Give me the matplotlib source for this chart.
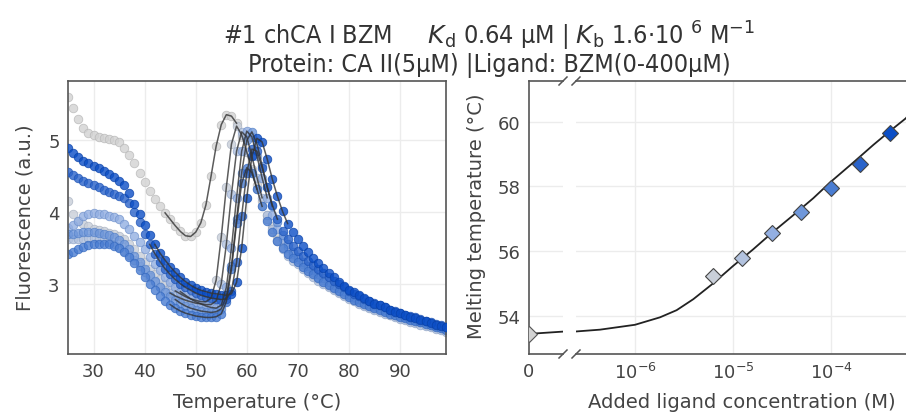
import matplotlib
matplotlib.use("Agg")
import matplotlib.pyplot as plt
from matplotlib.lines import Line2D
from matplotlib.ticker import FixedLocator, NullLocator

plt.rcParams['font.family'] = ['DejaVu Sans']
plt.rcParams['mathtext.fontset'] = 'dejavusans'

temps = list(range(25, 100))

fluo_0 = [5.60, 5.45, 5.30, 5.18, 5.10, 5.07, 5.05, 5.04, 5.02, 5.00,
          4.98, 4.90, 4.80, 4.68, 4.55, 4.42, 4.30, 4.18, 4.08, 3.99,
          3.90, 3.81, 3.73, 3.67, 3.66, 3.72, 3.85, 4.10, 4.50, 4.92,
          5.22, 5.36, 5.34, 5.24, 5.05, 4.84, 4.60, 4.38, 4.16, 3.96,
          3.80, 3.67, 3.56, 3.47, 3.39, 3.32, 3.25, 3.19, 3.13, 3.08,
          3.03, 2.98, 2.94, 2.90, 2.86, 2.82, 2.78, 2.75, 2.72, 2.69,
          2.66, 2.63, 2.61, 2.58, 2.56, 2.54, 2.52, 2.50, 2.48, 2.46,
          2.44, 2.42, 2.40, 2.38, 2.36]
fluo_6 = [4.16, 3.98, 3.88, 3.83, 3.80, 3.77, 3.75, 3.73, 3.71, 3.69,
          3.66, 3.62, 3.56, 3.48, 3.39, 3.30, 3.21, 3.13, 3.06, 3.00,
          2.95, 2.90, 2.86, 2.82, 2.79, 2.77, 2.75, 2.75, 2.80, 3.05,
          3.65, 4.35, 4.95, 5.20, 5.08, 4.84, 4.58, 4.32, 4.09, 3.90,
          3.74, 3.61, 3.51, 3.43, 3.36, 3.30, 3.24, 3.18, 3.12, 3.07,
          3.02, 2.97, 2.93, 2.89, 2.85, 2.81, 2.77, 2.74, 2.71, 2.68,
          2.65, 2.62, 2.60, 2.57, 2.55, 2.53, 2.51, 2.49, 2.47, 2.45,
          2.43, 2.41, 2.39, 2.37, 2.35]
fluo_12 = [3.63, 3.62, 3.62, 3.63, 3.64, 3.64, 3.63, 3.61, 3.58, 3.55,
           3.51, 3.46, 3.40, 3.33, 3.25, 3.17, 3.09, 3.02, 2.96, 2.91,
           2.87, 2.83, 2.80, 2.77, 2.75, 2.73, 2.72, 2.71, 2.71, 2.76,
           3.00, 3.55, 4.25, 4.85, 5.12, 5.05, 4.78, 4.48, 4.20, 3.96,
           3.76, 3.60, 3.48, 3.39, 3.32, 3.27, 3.21, 3.15, 3.09, 3.04,
           2.99, 2.95, 2.91, 2.87, 2.83, 2.79, 2.76, 2.72, 2.69, 2.66,
           2.63, 2.61, 2.58, 2.56, 2.54, 2.51, 2.49, 2.47, 2.45, 2.43,
           2.41, 2.39, 2.37, 2.35, 2.33]
fluo_25 = [3.78, 3.82, 3.88, 3.94, 3.98, 3.99, 3.98, 3.97, 3.95, 3.93,
           3.90, 3.84, 3.76, 3.67, 3.58, 3.48, 3.38, 3.28, 3.19, 3.10,
           3.02, 2.95, 2.89, 2.84, 2.79, 2.75, 2.72, 2.69, 2.67, 2.66,
           2.70, 2.95, 3.50, 4.20, 4.85, 5.13, 5.05, 4.78, 4.48, 4.20,
           3.96, 3.77, 3.62, 3.51, 3.42, 3.35, 3.28, 3.22, 3.16, 3.10,
           3.05, 3.00, 2.96, 2.92, 2.88, 2.84, 2.80, 2.77, 2.73, 2.70,
           2.67, 2.65, 2.62, 2.60, 2.57, 2.55, 2.53, 2.51, 2.49, 2.47,
           2.45, 2.43, 2.41, 2.39, 2.37]
fluo_50 = [3.70, 3.70, 3.71, 3.72, 3.72, 3.72, 3.71, 3.70, 3.68, 3.65,
           3.61, 3.55, 3.48, 3.39, 3.30, 3.21, 3.12, 3.04, 2.96, 2.89,
           2.83, 2.78, 2.73, 2.69, 2.66, 2.64, 2.62, 2.61, 2.60, 2.61,
           2.65, 2.82, 3.25, 3.90, 4.55, 5.00, 5.12, 4.95, 4.65, 4.35,
           4.08, 3.86, 3.68, 3.55, 3.45, 3.38, 3.31, 3.25, 3.19, 3.13,
           3.08, 3.03, 2.98, 2.94, 2.90, 2.86, 2.82, 2.79, 2.75, 2.72,
           2.69, 2.66, 2.64, 2.61, 2.59, 2.56, 2.54, 2.52, 2.50, 2.48,
           2.46, 2.44, 2.42, 2.40, 2.38]
fluo_100 = [3.42, 3.45, 3.49, 3.52, 3.54, 3.55, 3.56, 3.56, 3.55, 3.53,
            3.50, 3.45, 3.38, 3.29, 3.19, 3.09, 2.99, 2.91, 2.83, 2.76,
            2.71, 2.66, 2.62, 2.59, 2.57, 2.55, 2.54, 2.53, 2.53, 2.54,
            2.58, 2.75, 3.20, 3.85, 4.40, 4.62, 4.55, 4.32, 4.08, 3.88,
            3.72, 3.60, 3.50, 3.42, 3.36, 3.30, 3.24, 3.18, 3.13, 3.08,
            3.03, 2.98, 2.94, 2.90, 2.86, 2.82, 2.78, 2.75, 2.72, 2.69,
            2.66, 2.63, 2.61, 2.58, 2.56, 2.54, 2.52, 2.50, 2.48, 2.46,
            2.44, 2.42, 2.40, 2.38, 2.36]
fluo_200 = [4.56, 4.52, 4.48, 4.44, 4.41, 4.38, 4.35, 4.31, 4.28, 4.25,
            4.22, 4.20, 4.13, 4.00, 3.86, 3.70, 3.55, 3.42, 3.31, 3.21,
            3.13, 3.06, 3.00, 2.95, 2.91, 2.87, 2.84, 2.82, 2.80, 2.79,
            2.78, 2.79, 2.90, 3.30, 3.95, 4.55, 4.88, 4.85, 4.62, 4.35,
            4.10, 3.90, 3.74, 3.62, 3.53, 3.46, 3.39, 3.32, 3.26, 3.20,
            3.15, 3.09, 3.04, 2.99, 2.95, 2.90, 2.86, 2.83, 2.79, 2.76,
            2.73, 2.70, 2.67, 2.64, 2.62, 2.59, 2.57, 2.55, 2.53, 2.51,
            2.48, 2.46, 2.44, 2.42, 2.40]
fluo_400 = [4.90, 4.82, 4.77, 4.72, 4.68, 4.65, 4.62, 4.58, 4.53, 4.49,
            4.44, 4.38, 4.26, 4.12, 3.97, 3.82, 3.68, 3.55, 3.43, 3.33,
            3.24, 3.16, 3.09, 3.03, 2.98, 2.94, 2.91, 2.89, 2.87, 2.86,
            2.85, 2.84, 2.86, 3.02, 3.50, 4.20, 4.78, 5.03, 4.98, 4.74,
            4.46, 4.22, 4.01, 3.84, 3.72, 3.62, 3.53, 3.44, 3.36, 3.29,
            3.22, 3.15, 3.09, 3.03, 2.97, 2.92, 2.88, 2.84, 2.80, 2.76,
            2.72, 2.70, 2.67, 2.64, 2.61, 2.59, 2.56, 2.54, 2.52, 2.50,
            2.48, 2.45, 2.43, 2.41, 2.39]

curves = [fluo_0, fluo_6, fluo_12, fluo_25, fluo_50, fluo_100, fluo_200, fluo_400]
fit_start = [44, 46, 45, 47, 46, 45, 41, 42]
fit_end = [58, 62, 63, 64, 65, 63, 66, 68]

# Melting temperatures vs ligand concentration
conc = [6.25e-6, 1.25e-5, 2.5e-5, 5e-5, 1e-4, 2e-4, 4e-4]
tm = [55.25, 55.81, 56.56, 57.20, 57.94, 58.68, 59.66]
tm_zero = 53.46
fit_conc = [2.4e-7, 4.4e-7, 1e-6, 1.8e-6, 2.66e-6, 3.94e-6, 6.3e-6, 1e-5,
            1.6e-5, 2.56e-5, 4.1e-5, 6.6e-5, 1e-4, 1.69e-4, 2.7e-4, 4e-4,
            5.8e-4, 7.2e-4]
fit_tm = [53.53, 53.59, 53.74, 53.97, 54.19, 54.53, 55.02, 55.55,
          56.06, 56.60, 57.11, 57.64, 58.15, 58.74, 59.28, 59.71,
          60.10, 60.45]

colors = ['#d2d2d2', '#c9cfd9', '#b2c2de', '#93afe2', '#6f97da', '#4a7dd2', '#2a63ca', '#0b4ec6']
edges = ['#b8b8b8', '#aab3c2', '#92a6c8', '#7193cc', '#5481c8', '#3569bf', '#1c52b4', '#0841a8']
txt = '#444444'
grid_c = '#ececec'

fig = plt.figure(figsize=(9.06, 4.14), dpi=100)

# ---- left panel: melting curves
ax = fig.add_axes([68/906, 1-355/414, 378/906, 273/414])
for i, f in enumerate(curves):
    ax.scatter(temps, f, s=38, color=colors[i], edgecolors=edges[i],
               linewidths=0.6, alpha=0.8, zorder=2+i*0.1)
for i, f in enumerate(curves):
    tt = [t for t in temps if fit_start[i] <= t <= fit_end[i]]
    ff = [v for t, v in zip(temps, f) if fit_start[i] <= t <= fit_end[i]]
    ax.plot(tt, ff, color='#333333', lw=1.1, alpha=0.8, zorder=4)
ax.set_xlim(25, 99)
ax.set_ylim(2.02, 5.83)
ax.set_xticks([30, 40, 50, 60, 70, 80, 90])
ax.set_yticks([3, 4, 5])
ax.grid(True, color=grid_c, lw=1)
ax.set_axisbelow(True)
ax.tick_params(length=0, labelsize=13, labelcolor=txt, pad=6)
for s in ax.spines.values():
    s.set_color('#555555')
    s.set_linewidth(1.2)

# ---- right panel: zero segment + log segment
az = fig.add_axes([529/906, 1-355/414, 34/906, 273/414])
al = fig.add_axes([576/906, 1-355/414, 339/906, 273/414])
for a in (az, al):
    a.set_ylim(52.84, 61.25)
    a.grid(True, color=grid_c, lw=1)
    a.set_axisbelow(True)
    a.tick_params(length=0, labelsize=13, labelcolor=txt, pad=6)
    for s in a.spines.values():
        s.set_color('#555555')
        s.set_linewidth(1.2)
az.spines['right'].set_visible(False)
al.spines['left'].set_visible(False)
al.spines['right'].set_visible(False)

az.set_xlim(0, 1)
az.set_xticks([0])
az.xaxis.grid(False)
az.set_yticks([54, 56, 58, 60])
az.plot([0, 1], [tm_zero, fit_tm[0]], color='#222222', lw=1.3, zorder=3)
az.plot([0], [tm_zero], marker='D', ms=8, color=colors[0], mec='#555555', mew=0.8, zorder=4)

al.set_xscale('log')
al.set_xlim(2.5e-7, 7.2e-4)
al.xaxis.set_major_locator(FixedLocator([1e-6, 1e-5, 1e-4]))
al.xaxis.set_minor_locator(NullLocator())
al.set_yticks([54, 56, 58, 60])
al.tick_params(axis='y', labelleft=False)
al.plot(fit_conc, fit_tm, color='#222222', lw=1.3, zorder=3)
for i, (c, t) in enumerate(zip(conc, tm)):
    al.plot([c], [t], marker='D', ms=8, color=colors[i+1], mec='#444444', mew=0.8, zorder=4)

# break marks "//" between the two segments
H = 414.0
for yb in (82, 355):
    for xb in (563, 576):
        fig.add_artist(Line2D([(xb - 4) / 906, (xb + 4) / 906],
                              [1 - (yb + 4) / H, 1 - (yb - 4) / H],
                              color='#555555', lw=1.1))

# ---- labels
fig.text(25/906, 1-218/H, 'Fluorescence (a.u.)', rotation=90, ha='center', va='center',
         fontsize=14, color=txt)
fig.text(257/906, 1-403/H, 'Temperature (°C)', ha='center', va='center',
         fontsize=14, color=txt)
fig.text(476/906, 1-216/H, 'Melting temperature (°C)', rotation=90, ha='center', va='center',
         fontsize=14, color=txt)
fig.text(742/906, 1-403/H, 'Added ligand concentration (M)', ha='center', va='center',
         fontsize=14, color=txt)

fig.text(489/906, 1-36/H,
         r'#1 chCA I BZM     $K_\mathrm{d}$ 0.64 μM | $K_\mathrm{b}$ 1.6·10 ${}^{6}$ M$^{-1}$',
         ha='center', va='center', fontsize=18, color='#333333', fontstretch='condensed')
fig.text(489/906, 1-66/H, 'Protein: CA II(5μM) |Ligand: BZM(0-400μM)',
         ha='center', va='center', fontsize=18, color='#333333', fontstretch='condensed')

fig.savefig('out.png', dpi=100)
